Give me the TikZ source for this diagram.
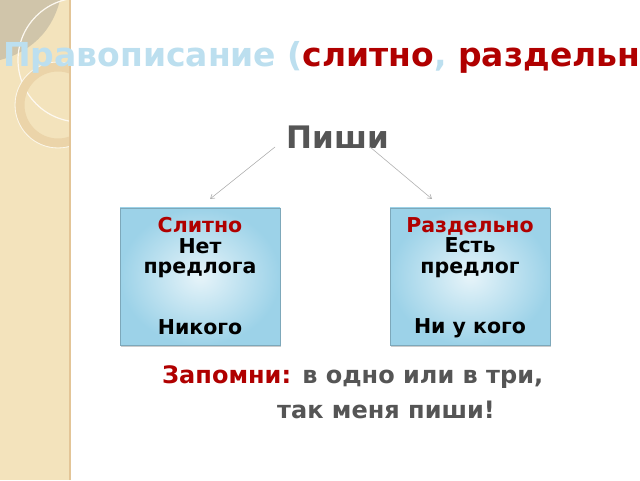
\documentclass[tikz,border=0pt]{standalone}
\usepackage{fontspec}
\setmainfont{DejaVu Sans}
\usetikzlibrary{arrows.meta,shadows}
\definecolor{tblue}{HTML}{BCDFEF}
\definecolor{dred}{HTML}{B00000}
\definecolor{dgray}{HTML}{555555}
\definecolor{beige}{HTML}{F3E3BC}
\definecolor{boxb}{HTML}{9CD2E8}
\tikzset{
  card/.style={draw=boxb!80!black, line width=0.5pt, inner color=white!75!boxb, outer color=boxb, minimum width=160pt, minimum height=137pt, drop shadow={shadow xshift=1pt,shadow yshift=-1.5pt,opacity=0.4}},
  cardtext/.style={font=\bfseries\fontsize{20.5}{20.5}\selectfont, align=center, anchor=north},
  conn/.style={draw=gray!60, line width=0.6pt, -{Straight Barb[length=4pt,width=5pt]}}
}
\begin{document}
\begin{tikzpicture}[x=1pt,y=1pt]
\useasboundingbox (0,0) rectangle (640,480);
\fill[white] (0,0) rectangle (640,480);
% left strip
\begin{scope}
\clip (0,0) rectangle (70,480);
\fill[beige] (0,0) rectangle (70,480);
\fill[gray!30!beige] (0,480) -- (0,420) .. controls (20,425) and (50,440) .. (60,480) -- cycle;
\draw[white!80!beige, line width=1.2pt] (80,420) circle (62);
\draw[beige!85!brown, line width=9pt] (58,375) circle (38);
\draw[white!70!beige, line width=0.8pt] (58,375) circle (43);
\end{scope}
\draw[beige!70!brown, line width=1.5pt] (70,0) -- (70,480);
% title
\node[anchor=west, inner sep=0, font=\bfseries\fontsize{33}{38}\selectfont] (title) at (3,423)
  {\textcolor{tblue}{Правописание (}\textcolor{dred}{слитно}\textcolor{tblue}{, }\textcolor{dred}{раздельно}\textcolor{tblue}{)}};
\node[font=\bfseries\fontsize{31}{36}\selectfont, text=dgray] (pishi) at (338,343) {Пиши};
\coordinate (a1) at (275,333);
\coordinate (a2) at (370,333);
\coordinate (b1) at (210,281);
\coordinate (b2) at (432,281);
\node[card] (left) at (200,203.5) {};
\node[card] (right) at (470,203.5) {};
\node[cardtext] (lt) at (200,266) {\textcolor{dred}{Слитно}\\Нет\\предлога\\[40pt]Никого};
\node[cardtext] (rt) at (470,266) {\textcolor{dred}{Раздельно}\\Есть\\предлог\\[40pt]Ни у кого};
\draw[conn] (a1) -- (b1);
\draw[conn] (a2) -- (b2);
\node[anchor=west, inner sep=0, font=\bfseries\fontsize{24}{28}\selectfont] (z1) at (162,103)
  {\textcolor{dred}{Запомни:} \textcolor{dgray}{в одно или в три,}};
\node[anchor=west, inner sep=0, font=\bfseries\fontsize{24}{28}\selectfont, text=dgray] (z2) at (277,70) {так меня пиши!};
\end{tikzpicture}
\end{document}
